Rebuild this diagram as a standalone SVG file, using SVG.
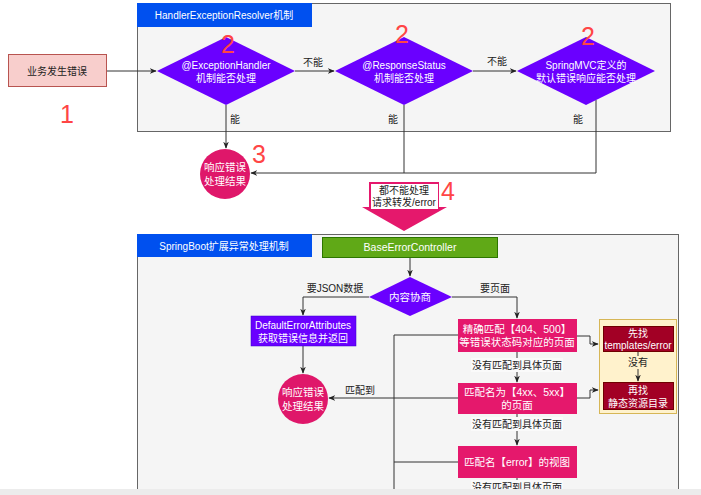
<svg xmlns="http://www.w3.org/2000/svg" width="701" height="495" viewBox="0 0 701 495">
<defs>
<marker id="ah" viewBox="0 0 10 10" refX="9" refY="5" markerWidth="7" markerHeight="7" orient="auto" markerUnits="userSpaceOnUse">
<path d="M0,1 L10,5 L0,9 L3,5 Z" fill="#222"/>
</marker>
<style>
text{font-family:"Liberation Sans","Noto Sans CJK SC",Arial,sans-serif;font-size:10px;text-anchor:middle;dominant-baseline:central;}
.w{fill:#fff;}
.k{fill:#222;}
.num{fill:#ff4545;font-size:25px;dominant-baseline:alphabetic;}
.cont{fill:#f5f5f5;stroke:#666;stroke-width:1;}
.hdr{fill:#0050ef;}
.dia{fill:#6a00ff;}
.pk{fill:#e5186c;}
.pt{font-size:10.5px;}
.cir{fill:#df176a;}
.ct{font-size:10.5px;}
.dr{fill:#a20025;stroke:#6f0000;stroke-width:1;}
.ln{fill:none;stroke:#333;stroke-width:1;}
.arr{fill:none;stroke:#333;stroke-width:1;marker-end:url(#ah);}
.lbg{fill:#fafafa;}
</style>
</defs>
<rect x="0" y="0" width="701" height="495" fill="#fff"/>

<g id="container-top">
<rect class="cont" x="137.5" y="3.5" width="533" height="128"/>
<rect class="hdr" x="137" y="3" width="175" height="24"/>
<text class="w" x="224" y="15">HandlerExceptionResolver机制</text>
</g>

<g id="container-bottom">
<rect class="cont" x="137.5" y="234.5" width="541" height="270"/>
<rect class="hdr" x="137" y="234" width="175" height="23"/>
<text class="w" x="224" y="246">SpringBoot扩展异常处理机制</text>
</g>

<g id="connectors">
<path class="arr" d="M107,71 L156,71"/>
<path class="arr" d="M295,71 L334,71"/>
<text class="k" x="313" y="62">不能</text>
<path class="arr" d="M473,71 L516,71"/>
<text class="k" x="497" y="61">不能</text>
<path class="arr" d="M226,105 L226,148"/>
<text class="k" x="235" y="119">能</text>
<path class="ln" d="M404,105 L404,173"/>
<text class="k" x="393" y="119">能</text>
<path class="arr" d="M596,100 L596,173 L251,173"/>
<text class="k" x="578" y="119">能</text>

<path class="arr" d="M410,258 L410,276"/>
<path class="arr" d="M369,297 L303,297 L303,315"/>
<text class="k" x="335" y="288">要JSON数据</text>
<path class="arr" d="M452,297 L517,297 L517,318"/>
<text class="k" x="495" y="288">要页面</text>
<path class="arr" d="M303,346 L303,373"/>
<path class="ln" d="M458,335 L394,335 L394,495"/>
<path class="ln" d="M458,462 L394,462"/>
<path class="arr" d="M458,398 L329,398"/>
<text class="k" x="360" y="390">匹配到</text>
<path class="arr" d="M517,352 L517,382"/>
<rect class="lbg" x="471" y="358" width="92" height="14"/>
<text class="k" x="517" y="365">没有匹配到具体页面</text>
<path class="arr" d="M517,414 L517,445"/>
<rect class="lbg" x="471" y="417" width="92" height="14"/>
<text class="k" x="517" y="424">没有匹配到具体页面</text>
<path class="ln" d="M517,478 L517,495"/>
<rect class="lbg" x="471" y="480" width="92" height="14"/>
<text class="k" x="517" y="487">没有匹配到具体页面</text>
<path class="arr" d="M577,336 L590,336 L590,344 L598,344"/>
<path class="arr" d="M577,398 L590,398 L590,390 L598,390"/>
</g>

<g id="n-start">
<rect x="8.5" y="54.5" width="98" height="32" fill="#f8cecc" stroke="#b85450"/>
<text class="k" x="57" y="71">业务发生错误</text>
</g>

<g id="n-d1">
<polygon class="dia" points="157,71 226,37 295,71 226,105"/>
<text class="w" x="226" y="65">@ExceptionHandler</text>
<text class="w" x="226" y="78">机制能否处理</text>
</g>
<g id="n-d2">
<polygon class="dia" points="335,71 404,37 473,71 404,105"/>
<text class="w" x="404" y="65">@ResponseStatus</text>
<text class="w" x="404" y="78">机制能否处理</text>
</g>
<g id="n-d3">
<polygon class="dia" points="517,71 586,37 655,71 586,105"/>
<text class="w" x="586" y="65">SpringMVC定义的</text>
<text class="w" x="586" y="78">默认错误响应能否处理</text>
</g>

<g id="n-c1">
<circle class="cir" cx="225" cy="174" r="25"/>
<text class="w ct" x="225" y="167">响应错误</text>
<text class="w ct" x="225" y="181">处理结果</text>
</g>

<g id="n-forward">
<polygon points="369,182 439,182 439,207 447,207 404,231 362,207 369,207" fill="#e5186c"/>
<rect x="371" y="184" width="67" height="25" fill="#fff"/>
<text class="k" x="404" y="190">都不能处理</text>
<text class="k" x="404" y="202">请求转发/error</text>
</g>

<g id="n-base">
<rect x="322.5" y="237.5" width="175" height="20" fill="#60a917" stroke="#2d7600"/>
<text class="w" x="410" y="247" style="font-size:10.5px">BaseErrorController</text>
</g>

<g id="n-neg">
<polygon class="dia" points="369,297 410,277 452,297 410,316"/>
<text class="w" x="410" y="297" style="font-size:10.5px">内容协商</text>
</g>

<g id="n-attr">
<rect x="251" y="316" width="105" height="30" fill="#6a00ff" stroke="#3700cc" stroke-width="0.5"/>
<text class="w" x="303" y="325">DefaultErrorAttributes</text>
<text class="w" x="303" y="338">获取错误信息并返回</text>
</g>

<g id="n-c2">
<circle class="cir" cx="303" cy="399" r="25"/>
<text class="w ct" x="303" y="392">响应错误</text>
<text class="w ct" x="303" y="406">处理结果</text>
</g>

<g id="n-p1">
<rect class="pk" x="458" y="319" width="119" height="33"/>
<text class="w pt" x="517" y="329">精确匹配【404、500】</text>
<text class="w pt" x="517" y="342">等错误状态码对应的页面</text>
</g>
<g id="n-p2">
<rect class="pk" x="458" y="383" width="119" height="31"/>
<text class="w pt" x="517" y="392">匹配名为【4xx、5xx】</text>
<text class="w pt" x="517" y="405">的页面</text>
</g>
<g id="n-p3">
<rect class="pk" x="458" y="446" width="119" height="32"/>
<text class="w pt" x="517" y="462">匹配名【error】的视图</text>
</g>

<g id="n-yellow">
<rect x="599.5" y="319.5" width="77" height="94" fill="#fff2cc" stroke="#d6b656"/>
</g>
<g id="n-r1">
<rect class="dr" x="603.5" y="326.5" width="70" height="25"/>
<text class="w" x="638" y="333">先找</text>
<text class="w" x="638" y="345">templates/error</text>
</g>
<g id="n-r2">
<rect class="dr" x="603.5" y="382.5" width="70" height="27"/>
<text class="w" x="638" y="390">再找</text>
<text class="w" x="638" y="403">静态资源目录</text>
</g>
<g id="yellow-link">
<path class="arr" d="M638,352 L638,381"/>
<rect x="627" y="356" width="22" height="13" fill="#fff2cc"/>
<text class="k" x="638" y="362">没有</text>
</g>

<g id="numbers">
<text class="num" x="67" y="123">1</text>
<text class="num" x="228" y="53">2</text>
<text class="num" x="402" y="43">2</text>
<text class="num" x="588" y="45">2</text>
<text class="num" x="259" y="163">3</text>
<text class="num" x="448" y="200">4</text>
</g>

<rect x="0" y="489" width="701" height="6" fill="#ececec"/>
</svg>
